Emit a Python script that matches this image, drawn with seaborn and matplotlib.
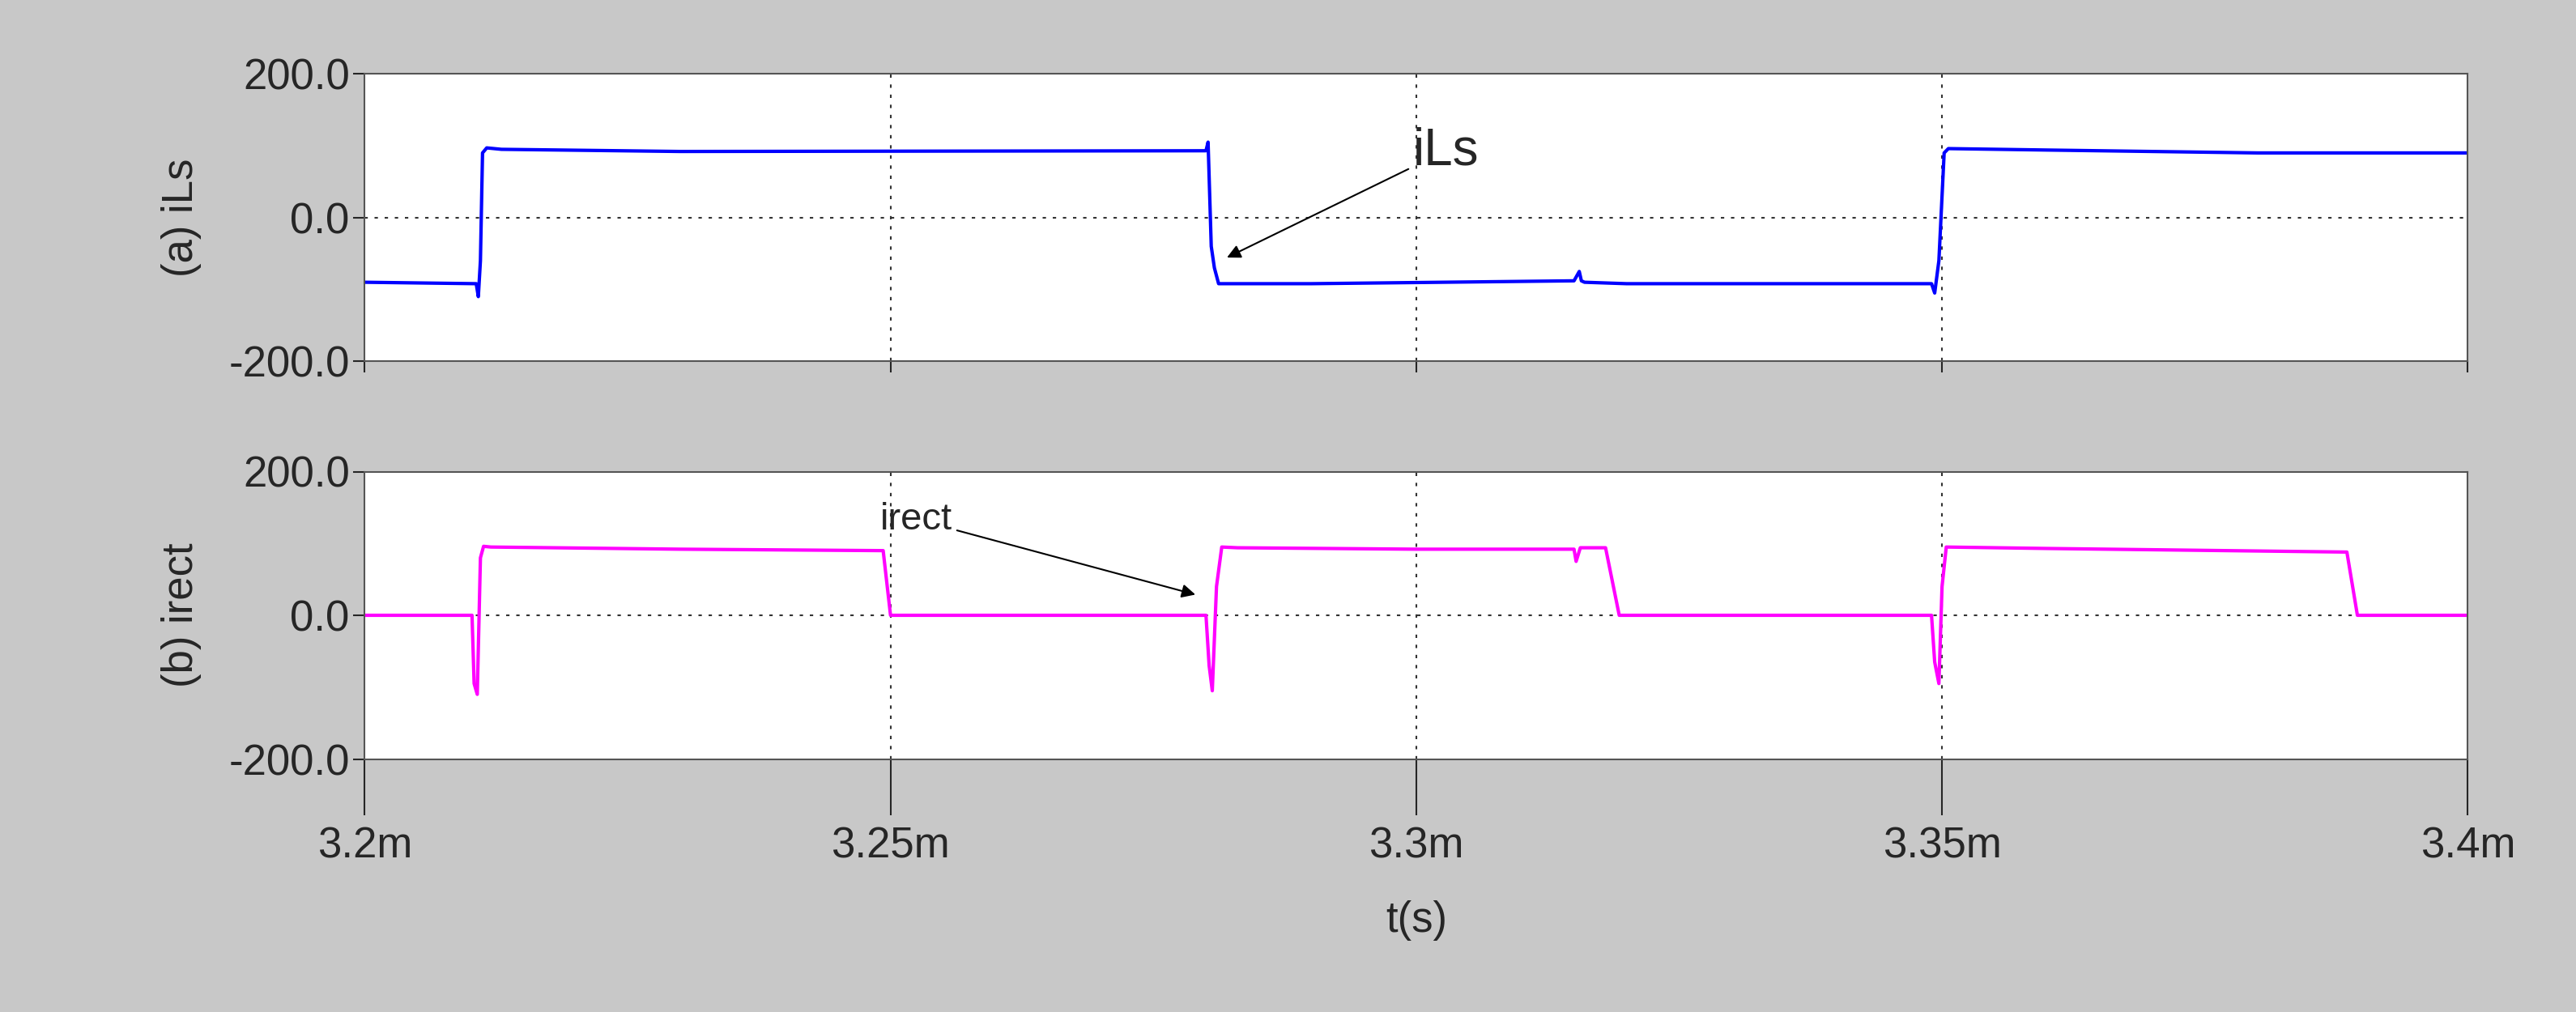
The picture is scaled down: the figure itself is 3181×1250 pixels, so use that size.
import matplotlib
matplotlib.use("Agg")
import matplotlib.pyplot as plt
import seaborn as sns
import pandas as pd

# iLs waveform (time in ms, current in A)
t_ils = [3.200, 3.2106, 3.2108, 3.2110, 3.2112, 3.2116, 3.2130, 3.2300, 3.2800, 3.2802, 3.2805,
         3.2808, 3.2812, 3.2900, 3.3150, 3.3155, 3.3157, 3.3160, 3.3200, 3.3490, 3.3493, 3.3497,
         3.3502, 3.3506, 3.3600, 3.3800, 3.4000]
v_ils = [-90, -92, -110, -60, 90, 97, 95, 92, 93, 105, -40, -70, -92, -92, -88, -75, -88, -90, -92, -92,
         -105, -60, 90, 96, 94, 90, 90]

# irect waveform
t_irect = [3.200, 3.2102, 3.2104, 3.2107, 3.2110, 3.2113, 3.2120, 3.2300, 3.2493, 3.2500, 3.2800,
           3.2803, 3.2806, 3.2810, 3.2815, 3.2830, 3.3000, 3.3150, 3.3152, 3.3156, 3.3160, 3.3180,
           3.3193, 3.3490, 3.3493, 3.3497, 3.3500, 3.3504, 3.3600, 3.3885, 3.3895, 3.4000]
v_irect = [0, 0, -95, -110, 80, 96, 95, 92, 90, 0, 0, -70, -105, 40, 95, 94, 92, 92, 75, 94, 94, 94,
           0, 0, -65, -95, 40, 95, 93, 88, 0, 0]

xticks = [3.2, 3.25, 3.3, 3.35, 3.4]
xticklabels = ["3.2m", "3.25m", "3.3m", "3.35m", "3.4m"]
yticks = [-200, 0, 200]
yticklabels = ["-200.0", "0.0", "200.0"]

sns.set_style("white")
plt.rcParams['font.family'] = ['Liberation Sans', 'DejaVu Sans']
fig = plt.figure(figsize=(31.81, 12.5), dpi=100, facecolor="#c8c8c8")
ax1 = fig.add_axes([0.1416, 0.643, 0.8164, 0.284])
ax2 = fig.add_axes([0.1416, 0.250, 0.8164, 0.284])

sns.lineplot(data=pd.DataFrame({"t": t_ils, "v": v_ils}), x="t", y="v", ax=ax1, color="#0000ff", lw=3)
sns.lineplot(data=pd.DataFrame({"t": t_irect, "v": v_irect}), x="t", y="v", ax=ax2, color="#ff00ff", lw=3)

FS = 38
for ax, lab in [(ax1, "(a) iLs"), (ax2, "(b) irect")]:
    ax.set_facecolor("white")
    ax.set_xlim(3.2, 3.4)
    ax.set_ylim(-200, 200)
    ax.set_yticks(yticks)
    ax.set_yticklabels(yticklabels, fontsize=FS)
    ax.set_xticks(xticks)
    ax.set_ylabel(lab, fontsize=FS, labelpad=24)
    ax.set_xlabel("")
    for s in ax.spines.values():
        s.set_color("#555555"); s.set_linewidth(1.5)
    ax.axhline(0, color="#333333", ls=(0, (2, 4)), lw=1.5, zorder=0)
    for x in xticks[1:-1]:
        ax.axvline(x, color="#333333", ls=(0, (2, 4)), lw=1.5, zorder=0)
    ax.tick_params(axis="both", length=10, width=1.5, direction="out", left=True, bottom=True)
ax1.set_xticklabels([])
ax2.set_xticklabels(xticklabels, fontsize=FS)
ax2.tick_params(axis="x", length=50, pad=10)
ax2.set_xlabel("t(s)", fontsize=FS, labelpad=30)

ax1.annotate("iLs", xy=(3.2818, -57), xytext=(3.2997, 74), fontsize=46,
             arrowprops=dict(arrowstyle="-|>", color="black", lw=1.5, mutation_scale=25))
ax2.annotate("irect", xy=(3.2792, 28), xytext=(3.2490, 120), fontsize=34,
             arrowprops=dict(arrowstyle="-|>", color="black", lw=1.5, mutation_scale=25))

fig.savefig("out.png", dpi=100, facecolor=fig.get_facecolor())
